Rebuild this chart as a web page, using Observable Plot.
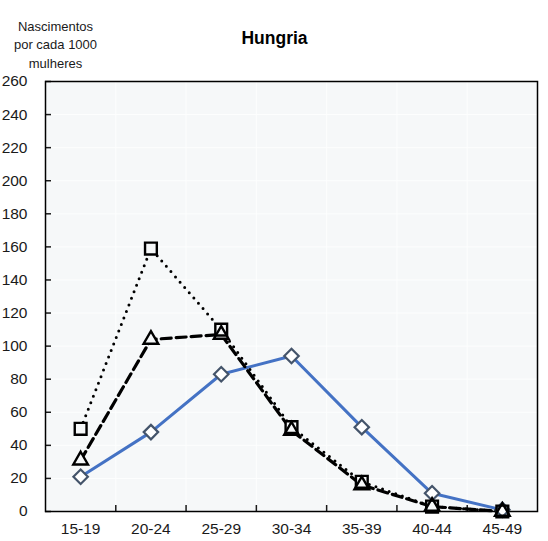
<!DOCTYPE html>
<html>
<head>
<meta charset="utf-8">
<script src="https://cdn.jsdelivr.net/npm/d3@7"></script>
<script src="https://cdn.jsdelivr.net/npm/@observablehq/plot@0.6"></script>
<style>
  html, body { margin: 0; padding: 0; background: #ffffff; }
  #chart svg { display: block; }
</style>
</head>
<body>
<div id="chart"></div>
<script>
const ageGroups = ["15-19", "20-24", "25-29", "30-34", "35-39", "40-44", "45-49"];
const seriesSquares = [50, 159, 110, 51, 18, 3, 0];
const seriesTriangles = [31, 104, 107, 49, 16, 3, 0];
const seriesDiamonds = [21, 48, 83, 94, 51, 11, 1];
const yTickValues = [0, 20, 40, 60, 80, 100, 120, 140, 160, 180, 200, 220, 240, 260];
const titleText = "Hungria";
const yLabelText = "Nascimentos\npor cada 1000\nmulheres";

const FONT = "'Liberation Sans', Arial, sans-serif";
const BG = "#f6f8f9";

const mk = (vals) => ageGroups.map((g, i) => ({pos: i + 0.5, group: g, value: vals[i]}));
const dSq = mk(seriesSquares);
const dTr = mk(seriesTriangles);
const dDi = mk(seriesDiamonds);
const centers = ageGroups.map((g, i) => i + 0.5);
const boundaries = ageGroups.slice(1).map((g, i) => i + 1);

const chart = Plot.plot({
  width: 548,
  height: 541,
  marginLeft: 45,
  marginRight: 11,
  marginTop: 81,
  marginBottom: 30,
  style: {fontFamily: FONT, fontSize: "15.5px", color: "#1a1a1a", background: "#ffffff"},
  x: {type: "linear", domain: [0, ageGroups.length], axis: null, label: null},
  y: {type: "linear", domain: [0, 260], axis: null, label: null},
  marks: [
    Plot.frame({fill: BG, stroke: null}),
    Plot.gridY(yTickValues, {stroke: "#fdfefe", strokeOpacity: 1, strokeWidth: 1}),
    Plot.gridX(boundaries, {stroke: "#fdfefe", strokeOpacity: 1, strokeWidth: 1}),
    Plot.axisY(yTickValues, {label: null, tickSize: 0, tickPadding: 18, fontSize: 15.5, tickFormat: d => String(d)}),
    Plot.axisY(yTickValues, {label: null, tickSize: -6, strokeWidth: 1.5, tickFormat: () => ""}),
    Plot.axisX(centers, {label: null, tickSize: 0, tickPadding: 11, fontSize: 15.5, tickFormat: d => ageGroups[Math.floor(d)]}),
    Plot.axisX(boundaries, {label: null, tickSize: -6, strokeWidth: 1.5, tickFormat: () => ""}),
    Plot.frame({stroke: "#000000", strokeWidth: 1.5}),
    // blue solid line with diamonds
    Plot.line(dDi, {x: "pos", y: "value", stroke: "#4472c4", strokeWidth: 3}),
    // dotted line with squares
    Plot.line(dSq, {x: "pos", y: "value", stroke: "#000000", strokeWidth: 3, strokeDasharray: "0,7", strokeLinecap: "round"}),
    // dashed line with triangles
    Plot.line(dTr, {x: "pos", y: "value", stroke: "#000000", strokeWidth: 3.2, strokeDasharray: "10,5"}),
    // marker interiors
    Plot.dot(dSq, {x: "pos", y: "value", symbol: "square2", r: 7.5, fill: BG, stroke: null}),
    Plot.dot(dTr, {x: "pos", y: "value", symbol: "triangle2", r: 7, fill: BG, stroke: null}),
    // marker outlines
    Plot.dot(dDi, {x: "pos", y: "value", symbol: "diamond2", r: 6.5, fill: "#ffffff", stroke: "#44546a", strokeWidth: 2.2}),
    Plot.dot(dSq, {x: "pos", y: "value", symbol: "square2", r: 7.5, fill: "none", stroke: "#000000", strokeWidth: 2.4}),
    Plot.dot(dTr, {x: "pos", y: "value", symbol: "triangle2", r: 7, fill: "none", stroke: "#000000", strokeWidth: 2.4}),
    Plot.text([titleText], {frameAnchor: "top", dx: -17, dy: -43, lineAnchor: "middle", fontWeight: "bold", fontSize: 17.5, fill: "#000000"}),
    Plot.text([yLabelText], {frameAnchor: "top-left", dx: 10, dy: -38, lineAnchor: "middle", textAnchor: "middle", fontSize: 13, lineHeight: 1.4, fill: "#1a1a1a"})
  ]
});
document.getElementById("chart").appendChild(chart);
</script>
</body>
</html>
